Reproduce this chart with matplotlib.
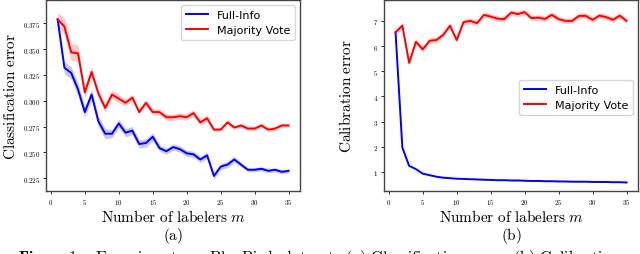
import numpy as np
import matplotlib
matplotlib.use('Agg')
import matplotlib.pyplot as plt
from matplotlib.ticker import FuncFormatter

plt.rcParams['mathtext.fontset'] = 'cm'

m = list(range(1, 36))

# (a) classification error
cls_full = [0.379, 0.332, 0.327, 0.311, 0.289, 0.306, 0.280, 0.268, 0.268, 0.278,
            0.269, 0.271, 0.258, 0.259, 0.265, 0.254, 0.251, 0.255, 0.253, 0.249,
            0.248, 0.243, 0.247, 0.227, 0.236, 0.238, 0.243, 0.238, 0.233, 0.233,
            0.234, 0.232, 0.233, 0.231, 0.232]
cls_full_sd = [0.004, 0.006, 0.006, 0.006, 0.005, 0.005, 0.005, 0.005, 0.004, 0.004,
               0.004, 0.004, 0.004, 0.004, 0.004, 0.003, 0.003, 0.003, 0.003, 0.003,
               0.003, 0.003, 0.003, 0.003, 0.003, 0.003, 0.003, 0.002, 0.002, 0.002,
               0.002, 0.002, 0.002, 0.002, 0.002]
cls_mv = [0.379, 0.372, 0.347, 0.346, 0.308, 0.328, 0.307, 0.293, 0.306, 0.302,
          0.298, 0.303, 0.289, 0.298, 0.289, 0.289, 0.284, 0.284, 0.285, 0.284,
          0.288, 0.279, 0.283, 0.272, 0.272, 0.279, 0.274, 0.276, 0.273, 0.273,
          0.276, 0.272, 0.273, 0.276, 0.276]
cls_mv_sd = [0.007, 0.008, 0.008, 0.008, 0.005, 0.005, 0.004, 0.004, 0.004, 0.004,
             0.003, 0.003, 0.003, 0.003, 0.003, 0.003, 0.003, 0.003, 0.003, 0.003,
             0.003, 0.003, 0.003, 0.002, 0.002, 0.002, 0.002, 0.002, 0.002, 0.002,
             0.002, 0.002, 0.002, 0.002, 0.002]

# (b) calibration error
cal_full = [6.55, 1.97, 1.24, 1.11, 0.93, 0.87, 0.81, 0.77, 0.75, 0.73,
            0.72, 0.71, 0.70, 0.69, 0.68, 0.67, 0.67, 0.66, 0.66, 0.65,
            0.64, 0.64, 0.63, 0.63, 0.62, 0.62, 0.61, 0.61, 0.61, 0.60,
            0.60, 0.60, 0.59, 0.59, 0.58]
cal_mv = [6.55, 6.81, 5.33, 6.17, 5.87, 6.21, 6.24, 6.44, 6.81, 6.24,
          6.95, 7.00, 6.91, 7.24, 7.17, 7.09, 7.07, 7.33, 7.27, 7.35,
          7.11, 7.13, 7.08, 7.24, 7.07, 7.00, 7.00, 7.20, 7.20, 7.04,
          7.21, 7.15, 7.04, 7.21, 7.00]
cal_mv_sd = 0.11

fig = plt.figure(figsize=(6.4, 2.55), dpi=100)
ax1 = fig.add_axes([0.072, 0.247, 0.397, 0.75])
ax2 = fig.add_axes([0.600, 0.247, 0.397, 0.75])

def band(ax, y, sd, color):
    y = np.array(y)
    ax.fill_between(m, y - sd, y + sd, color=color, alpha=0.22, lw=0)

band(ax1, cls_full, np.array(cls_full_sd), 'blue')
band(ax1, cls_mv, np.array(cls_mv_sd), 'red')
ax1.plot(m, cls_full, color='blue', lw=1.4, label='Full-Info')
ax1.plot(m, cls_mv, color='red', lw=1.4, label='Majority Vote')
ax1.set_ylim(0.2124, 0.398)
ax1.set_yticks(np.arange(0.225, 0.376, 0.025))
ax1.yaxis.set_major_formatter(FuncFormatter(lambda v, p: '$%.3f$' % v))
ax1.set_ylabel(r'$\mathrm{Classification\ error}$', fontsize=11, labelpad=4)
ax1.legend(loc='upper right', fontsize=8)

band(ax2, cal_full, 0.02, 'blue')
band(ax2, cal_mv, cal_mv_sd, 'red')
ax2.plot(m, cal_full, color='blue', lw=1.4, label='Full-Info')
ax2.plot(m, cal_mv, color='red', lw=1.4, label='Majority Vote')
ax2.set_ylim(0.24, 7.84)
ax2.set_yticks(range(1, 8))
ax2.yaxis.set_major_formatter(FuncFormatter(lambda v, p: '$%d$' % v))
ax2.set_ylabel(r'$\mathrm{Calibration\ error}$', fontsize=11, labelpad=14)
ax2.legend(loc='center right', fontsize=8, bbox_to_anchor=(1.0, 0.49))

for ax, tag in [(ax1, '(a)'), (ax2, '(b)')]:
    ax.set_xlim(-0.7, 36.7)
    ax.set_xticks(range(0, 36, 5))
    ax.xaxis.set_major_formatter(FuncFormatter(lambda v, p: '$%d$' % v))
    ax.tick_params(labelsize=5, length=2.5, width=0.6, pad=1.5)
    for s in ax.spines.values():
        s.set_color('#444444')
        s.set_linewidth(1.0)
    ax.set_xlabel(r'$\mathrm{Number\ of\ labelers}\ m$', fontsize=11, labelpad=1.5)
    ax.text(0.5, -0.228, r'$\mathrm{' + tag + '}$', transform=ax.transAxes,
            ha='center', va='center', fontsize=11)

fig.text(0.028, 0.028, r'$\mathbf{Figure\ 1:}$' + r'$\mathrm{\ \ Experiments\ on\ BlueBirds\ dataset.\ (a)\ Classification\ error.\ (b)\ Calibration\ error.}$',
         fontsize=11.5, va='top')

fig.savefig('out.png', dpi=100)
